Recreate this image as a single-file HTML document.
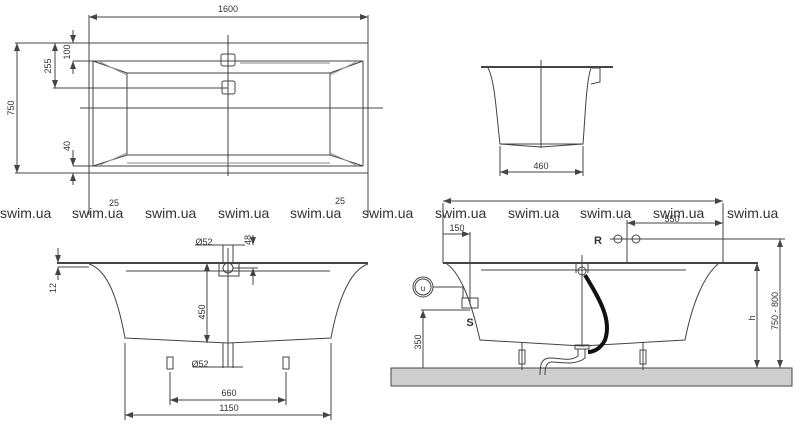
<!DOCTYPE html>
<html><head><meta charset="utf-8"><style>
html,body{margin:0;padding:0;background:#fff}
svg{display:block}
text{font-family:"Liberation Sans",sans-serif;fill:#333}
.l{stroke:#444;stroke-width:1;fill:none}
.w{font-size:14px;fill:#777}
.d{font-size:9px}
</style></head><body>
<svg width="800" height="427" viewBox="0 0 800 427" xmlns="http://www.w3.org/2000/svg">
<defs>
<marker id="a" markerWidth="8" markerHeight="6" refX="8" refY="3" orient="auto-start-reverse" markerUnits="userSpaceOnUse"><path d="M0,0 L8,3 L0,6 z" fill="#444"/></marker>
</defs>

<!-- TOP VIEW -->
<g class="l">
<line x1="89" y1="15" x2="89" y2="215"/><line x1="368" y1="15" x2="368" y2="215"/>
<line x1="89" y1="17" x2="368" y2="17" marker-start="url(#a)" marker-end="url(#a)"/>
<line x1="15" y1="43" x2="368" y2="43"/>
<line x1="15" y1="173" x2="100" y2="173"/>
<line x1="17" y1="43" x2="17" y2="173" marker-start="url(#a)" marker-end="url(#a)"/>
<line x1="53" y1="88" x2="228" y2="88"/>
<line x1="55" y1="43" x2="55" y2="88" marker-start="url(#a)" marker-end="url(#a)"/>
<line x1="73" y1="30" x2="73" y2="43" marker-end="url(#a)"/>
<line x1="73" y1="74" x2="73" y2="61" marker-end="url(#a)"/>
<line x1="73" y1="61" x2="93" y2="61"/>
<line x1="73" y1="150" x2="73" y2="166" marker-end="url(#a)"/>
<line x1="73" y1="185" x2="73" y2="173" marker-end="url(#a)"/>
<line x1="73" y1="166" x2="93" y2="166"/>
<rect x="89" y="43" width="279" height="130"/>
<line x1="93" y1="61" x2="363" y2="61"/>
<line x1="93" y1="166" x2="363" y2="166"/>
<line x1="93" y1="61" x2="93" y2="166"/>
<line x1="363" y1="61" x2="363" y2="166"/>
<rect x="127" y="73" width="203" height="82"/>
<path d="M93,61 L127,73 M363,61 L330,73 M93,166 L127,155 M363,166 L330,155"/>
<path d="M100,62 L127,75 M356,62 L330,75 M100,165 L127,153 M356,165 L330,153" stroke="#999"/>
<line x1="228" y1="35" x2="228" y2="176"/>
<line x1="80" y1="108" x2="383" y2="108"/>
<line x1="240" y1="63" x2="330" y2="63" stroke="#888"/>
<line x1="127" y1="163" x2="330" y2="163" stroke="#888"/>
<rect x="221" y="54" width="14" height="12" rx="2"/>
<rect x="222" y="81" width="13" height="13" rx="2"/>
</g>
<text x="228" y="12" class="d" text-anchor="middle">1600</text>
<text class="d" transform="translate(14,108) rotate(-90)" text-anchor="middle">750</text>
<text class="d" transform="translate(51,66) rotate(-90)" text-anchor="middle">255</text>
<text class="d" transform="translate(70,52) rotate(-90)" text-anchor="middle">100</text>
<text class="d" transform="translate(70,146) rotate(-90)" text-anchor="middle">40</text>
<text x="114" y="206" class="d" text-anchor="middle">25</text>
<text x="340" y="204" class="d" text-anchor="middle">25</text>

<!-- END VIEW -->
<g class="l">
<line x1="481" y1="67" x2="613" y2="67" stroke-width="2"/>
<path d="M488,68 C495,80 497,120 500,144 L583,144 C585,120 586,82 591,68"/>
<path d="M500,144 L541,147 L583,144"/>
<path d="M592,68 L600,68 L600,82 L591,84"/>
<line x1="541" y1="60" x2="541" y2="148"/>
<line x1="500" y1="146" x2="500" y2="176"/><line x1="583" y1="146" x2="583" y2="176"/>
<line x1="500" y1="172" x2="583" y2="172" marker-start="url(#a)" marker-end="url(#a)"/>
</g>
<text x="541" y="169" class="d" text-anchor="middle">460</text>

<!-- watermarks -->
<g class="w">
<text x="0" y="218">swim.ua</text><text x="72" y="218">swim.ua</text><text x="145" y="218">swim.ua</text>
<text x="218" y="218">swim.ua</text><text x="290" y="218">swim.ua</text><text x="362" y="218">swim.ua</text>
<text x="435" y="218">swim.ua</text><text x="508" y="218">swim.ua</text><text x="580" y="218">swim.ua</text>
<text x="653" y="218">swim.ua</text><text x="727" y="218">swim.ua</text>
</g>

<!-- SIDE VIEW LEFT -->
<g class="l">
<line x1="57" y1="263" x2="368" y2="263" stroke-width="2"/>
<path d="M89,264 C108,270 118,300 125,338 L228,343 L331,338 C338,300 350,270 368,264"/>
<line x1="126" y1="271" x2="330" y2="271"/>
<line x1="58" y1="248" x2="58" y2="263" marker-end="url(#a)"/>
<line x1="58" y1="280" x2="58" y2="267" marker-end="url(#a)"/>
<line x1="58" y1="267" x2="89" y2="267"/>
<path d="M219,263 L219,276 L239,276 L239,263"/>
<circle cx="228" cy="268" r="5"/>
<line x1="223" y1="245" x2="223" y2="263"/><line x1="233" y1="245" x2="233" y2="263"/>
<line x1="195" y1="245" x2="245" y2="245"/>
<line x1="253" y1="235" x2="253" y2="245" marker-end="url(#a)"/>
<line x1="253" y1="285" x2="253" y2="268" marker-end="url(#a)"/>
<line x1="233" y1="268" x2="258" y2="268"/>
<line x1="228" y1="248" x2="228" y2="367"/>
<line x1="207" y1="263" x2="207" y2="343" marker-start="url(#a)" marker-end="url(#a)"/>
<line x1="223" y1="343" x2="223" y2="368"/><line x1="233" y1="343" x2="233" y2="368"/>
<line x1="193" y1="367" x2="243" y2="367"/>
<rect x="167" y="357" width="6" height="12"/><rect x="283" y="357" width="6" height="12"/>
<line x1="170" y1="372" x2="170" y2="405"/><line x1="286" y1="372" x2="286" y2="405"/>
<line x1="170" y1="400" x2="286" y2="400" marker-start="url(#a)" marker-end="url(#a)"/>
<line x1="125" y1="343" x2="125" y2="420"/><line x1="331" y1="343" x2="331" y2="420"/>
<line x1="125" y1="415" x2="331" y2="415" marker-start="url(#a)" marker-end="url(#a)"/>
</g>
<text x="204" y="245" class="d" text-anchor="middle">Ø52</text>
<text class="d" transform="translate(251,240) rotate(-90)" text-anchor="middle">48</text>
<text class="d" transform="translate(56,288) rotate(-90)" text-anchor="middle">12</text>
<text class="d" transform="translate(205,312) rotate(-90)" text-anchor="middle">450</text>
<text x="200" y="367" class="d" text-anchor="middle">Ø52</text>
<text x="229" y="396" class="d" text-anchor="middle">660</text>
<text x="229" y="411" class="d" text-anchor="middle">1150</text>

<!-- SIDE VIEW RIGHT -->
<rect x="391" y="368" width="401" height="18" fill="#cfcfcf" stroke="#444"/>
<g class="l">
<line x1="443" y1="203" x2="443" y2="263"/><line x1="723" y1="203" x2="723" y2="263"/>
<line x1="443" y1="201" x2="723" y2="201" marker-start="url(#a)" marker-end="url(#a)"/>
<line x1="627" y1="220" x2="627" y2="263"/>
<line x1="627" y1="223" x2="723" y2="223" marker-start="url(#a)" marker-end="url(#a)"/>
<line x1="443" y1="234" x2="470" y2="234" marker-end="url(#a)"/>
<line x1="470" y1="232" x2="470" y2="305"/>
<line x1="443" y1="263" x2="758" y2="263" stroke-width="2"/>
<path d="M447,264 C462,275 472,305 480,340 C530,343 570,345 582,346 L685,340 C693,300 705,275 718,264"/>
<line x1="481" y1="270" x2="686" y2="270"/>
<circle cx="618" cy="239" r="4"/><circle cx="636" cy="239" r="4"/>
<line x1="610" y1="239" x2="785" y2="239"/>
<circle cx="423" cy="287" r="10"/><circle cx="423" cy="287" r="8"/>
<path d="M433,287 L463,287 L463,298"/>
<rect x="462" y="298" width="16" height="10"/>
<line x1="421" y1="310" x2="470" y2="310"/>
<line x1="423" y1="310" x2="423" y2="368" marker-start="url(#a)"/>
<line x1="582" y1="255" x2="582" y2="346"/>
<path d="M576,263 L576,273 M588,263 L588,273"/>
<circle cx="582" cy="271" r="4"/>
<rect x="575" y="345" width="14" height="4"/>
<path d="M578,349 L578,356 C570,362 560,358 550,358 C540,358 540,368 540,375 M585,349 L585,358 C575,366 560,362 552,362 C545,362 545,370 545,375"/>
<rect x="519" y="350" width="6" height="14"/><rect x="640" y="350" width="6" height="14"/>
<line x1="522" y1="342" x2="522" y2="370"/><line x1="643" y1="342" x2="643" y2="370"/>
<line x1="757" y1="263" x2="757" y2="368" marker-start="url(#a)" marker-end="url(#a)"/>
<line x1="780" y1="239" x2="780" y2="368" marker-start="url(#a)" marker-end="url(#a)"/>
</g>
<path d="M585,275 C600,300 612,320 605,340 C600,350 592,352 588,352" stroke="#111" stroke-width="4" fill="none"/>
<text x="457" y="231" class="d" text-anchor="middle">150</text>
<text x="672" y="222" class="d" text-anchor="middle" fill="#777">550</text>
<text x="598" y="244" font-size="11" font-weight="bold" text-anchor="middle">R</text>
<text x="423" y="291" font-size="8" text-anchor="middle">u</text>
<text x="470" y="326" font-size="11" font-weight="bold" text-anchor="middle">S</text>
<text class="d" transform="translate(421,342) rotate(-90)" text-anchor="middle">350</text>
<text class="d" transform="translate(755,318) rotate(-90)" text-anchor="middle">h</text>
<text class="d" transform="translate(778,311) rotate(-90)" text-anchor="middle">750 - 800</text>
</svg>
</body></html>
